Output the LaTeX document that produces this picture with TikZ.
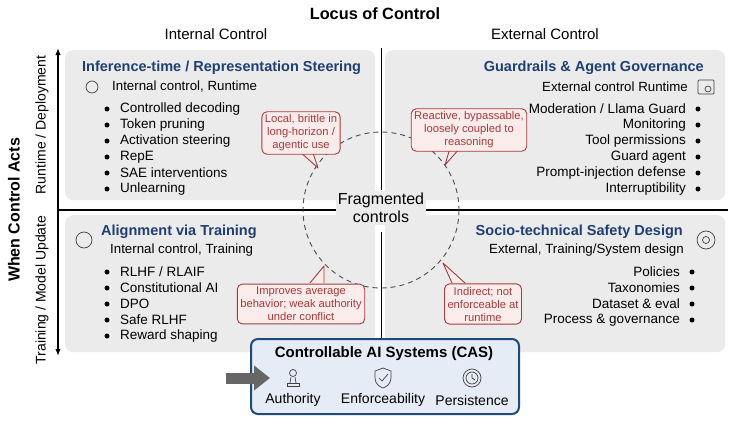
\documentclass[tikz,border=0pt]{standalone}
\usepackage{fontspec}
\setmainfont{Liberation Sans}
\usetikzlibrary{arrows.meta,shapes.geometric}
\definecolor{quad}{HTML}{EBEBEC}
\definecolor{ttl}{HTML}{1F3F73}
\definecolor{cred}{HTML}{A83A3A}
\definecolor{cfill}{HTML}{FBECEC}
\definecolor{casb}{HTML}{1F4A7A}
\definecolor{casf}{HTML}{E6ECF5}
\tikzset{
 quadbox/.style={fill=quad,rounded corners=8pt,draw=none},
 qtitle/.style={font=\bfseries\fontsize{14.5}{16}\selectfont,text=ttl,inner sep=0},
 sub/.style={font=\fontsize{13.3}{15}\selectfont,inner sep=0},
 item/.style={font=\fontsize{13.5}{15}\selectfont,inner sep=0},
 bul/.style={circle,fill=black,inner sep=0,minimum size=5pt},
 callout/.style={draw=cred,fill=cfill,rounded corners=5pt,line width=0.9pt,text=cred,align=center,font=\fontsize{11.2}{13}\selectfont,inner sep=3pt},
 axl/.style={font=\fontsize{15}{17}\selectfont,inner sep=0},
 icon/.style={line width=0.7pt,draw=black!75}
}
\begin{document}
\begin{tikzpicture}[x=1pt,y=-1pt]
\useasboundingbox (0,0) rectangle (739,423);
% headers
\node[font=\bfseries\fontsize{16.3}{18}\selectfont] (loc) at (375,14) {Locus of Control};
\node[axl] (ic) at (216,34) {Internal Control};
\node[axl] (ec) at (545,34) {External Control};
% quadrants
\node[quadbox,minimum width=310pt,minimum height=150pt,anchor=north west] (tl) at (65,50) {};
\node[quadbox,minimum width=340pt,minimum height=150pt,anchor=north west] (tr) at (385,50) {};
\node[quadbox,minimum width=310pt,minimum height=137pt,anchor=north west] (bl) at (65,215) {};
\node[quadbox,minimum width=340pt,minimum height=137pt,anchor=north west] (br) at (385,215) {};
% axes
\coordinate (vt) at (58,48); \coordinate (vb) at (58,356);
\draw[line width=1.1pt,-{Latex[length=7pt]}] (58,210) -- (vt);
\draw[line width=1.1pt,-{Latex[length=7pt]}] (58,210) -- (vb);
\coordinate (hl) at (58,210); \coordinate (hr) at (728,210);
\draw[line width=1.1pt] (hl) -- (hr);
\coordinate (c1) at (381,48); \coordinate (c2) at (381,190);
\coordinate (c3) at (381,232); \coordinate (c4) at (381,338);
\draw[line width=0.9pt] (c1) -- (c2) (c3) -- (c4);
\node[rotate=90,font=\bfseries\fontsize{16}{18}\selectfont] (wca) at (14,210) {When Control Acts};
\node[rotate=90,font=\fontsize{14}{16}\selectfont] (rd) at (42,125) {Runtime / Deployment};
\node[rotate=90,font=\fontsize{14}{16}\selectfont] (tm) at (42,290) {Training / Model Update};
% circle
\coordinate (cc) at (381,210);
\draw[dashed,line width=0.9pt,black!70,dash pattern=on 5pt off 4pt] (cc) circle (78);
\node[fill=quad,align=center,font=\fontsize{16}{18}\selectfont,inner sep=2pt] (frag) at (381,208) {Fragmented\\controls};
% TL
\node[qtitle,anchor=west] (tlt) at (82,68) {Inference-time / Representation Steering};
\node[sub,anchor=west] (tls) at (112,87) {Internal control, Runtime};
\draw[icon] (92,87) circle (6pt);
\foreach \t [count=\i] in {Controlled decoding,Token pruning,Activation steering,RepE,SAE interventions,Unlearning}{
 \node[bul] (tlb\i) at (107,93+\i*16) {};
 \node[item,anchor=west] (tli\i) at (120,93+\i*16) {\t};}
% TR
\node[qtitle,anchor=east] (trt) at (704,68) {Guardrails \& Agent Governance};
\node[sub,anchor=east] (trs) at (688,87) {External control Runtime};
\draw[icon,rounded corners=1pt] (698,80) rectangle (714,94);
\draw[icon] (708,89) circle (3pt);
\foreach \t [count=\i] in {Moderation / Llama Guard,Monitoring,Tool permissions,Guard agent,Prompt-injection defense,Interruptibility}{
 \node[bul] (trb\i) at (698,93+\i*16) {};
 \node[item,anchor=east] (tri\i) at (686,93+\i*16) {\t};}
% BL
\node[qtitle,anchor=west] (blt) at (101,232) {Alignment via Training};
\draw[icon] (84,240) circle (8pt);
\node[sub,anchor=west] (bls) at (110,250) {Internal control, Training};
\foreach \t [count=\i] in {RLHF / RLAIF,Constitutional AI,DPO,Safe RLHF,Reward shaping}{
 \node[bul] (blb\i) at (107,256+\i*16) {};
 \node[item,anchor=west] (bli\i) at (120,256+\i*16) {\t};}
% BR
\node[qtitle,anchor=east] (brt) at (683,232) {Socio-technical Safety Design};
\draw[icon] (706,240) circle (9pt); \draw[icon] (706,240) circle (3.5pt);
\node[sub,anchor=east] (brs) at (684,250) {External, Training/System design};
\foreach \t [count=\i] in {Policies,Taxonomies,Dataset \& eval,Process \& governance}{
 \node[bul] (brb\i) at (692,256+\i*16) {};
 \node[item,anchor=east] (bri\i) at (680,256+\i*16) {\t};}
% callouts pointers
\coordinate (p1) at (318,168); \coordinate (p2) at (445,165);
\coordinate (p3) at (324,266); \coordinate (p4) at (443,263);
\filldraw[draw=cred,fill=cfill,line width=0.9pt,line join=round] (298,150) -- (p1) -- (312,150);
\filldraw[draw=cred,fill=cfill,line width=0.9pt,line join=round] (450,148) -- (p2) -- (460,148);
\filldraw[draw=cred,fill=cfill,line width=0.9pt,line join=round] (310,283) -- (p3) -- (324,283);
\filldraw[draw=cred,fill=cfill,line width=0.9pt,line join=round] (452,283) -- (p4) -- (465,283);
\node[callout] (k1) at (301,133) {Local, brittle in\\long-horizon /\\agentic use};
\node[callout] (k2) at (469,130) {Reactive, bypassable,\\loosely coupled to\\reasoning};
\node[callout] (k3) at (301,304) {Improves average\\behavior; weak authority\\under conflict};
\node[callout] (k4) at (483,304) {Indirect; not\\enforceable at\\runtime};
% CAS
\node[draw=casb,fill=casf,line width=2pt,rounded corners=7pt,minimum width=268pt,minimum height=75pt,anchor=north west] (cas) at (250,338) {};
\node[font=\bfseries\fontsize{15}{17}\selectfont] (cast) at (384,354) {Controllable AI Systems (CAS)};
\node[font=\fontsize{14}{16}\selectfont] (a1) at (293,400) {Authority};
\node[font=\fontsize{14}{16}\selectfont] (a2) at (383,400) {Enforceability};
\node[font=\fontsize{14}{16}\selectfont] (a3) at (472,400) {Persistence};
\draw[icon] (293,373) circle (3.5pt); \draw[icon] (287,386) rectangle (299,383);\draw[icon] (290,383)--(291,377) (296,383)--(295,377);
\draw[icon] (375,371) -- (383,368) -- (391,371) -- (391,378) .. controls (391,384) and (386,387) .. (383,388) .. controls (380,387) and (375,384) .. (375,378) -- cycle;
\draw[icon] (379,378) -- (382,381) -- (388,374);
\draw[icon] (472,378) circle (9pt); \draw[icon] (472,378) circle (6pt); \draw[icon] (472,374)--(472,378)--(475,380);
% gray arrow
\coordinate (ga) at (226,378); \coordinate (gb) at (270,378);
\draw[line width=11pt,black!60,-{Triangle[length=16pt,width=24pt]}] (ga) -- (gb);
\end{tikzpicture}
\end{document}
